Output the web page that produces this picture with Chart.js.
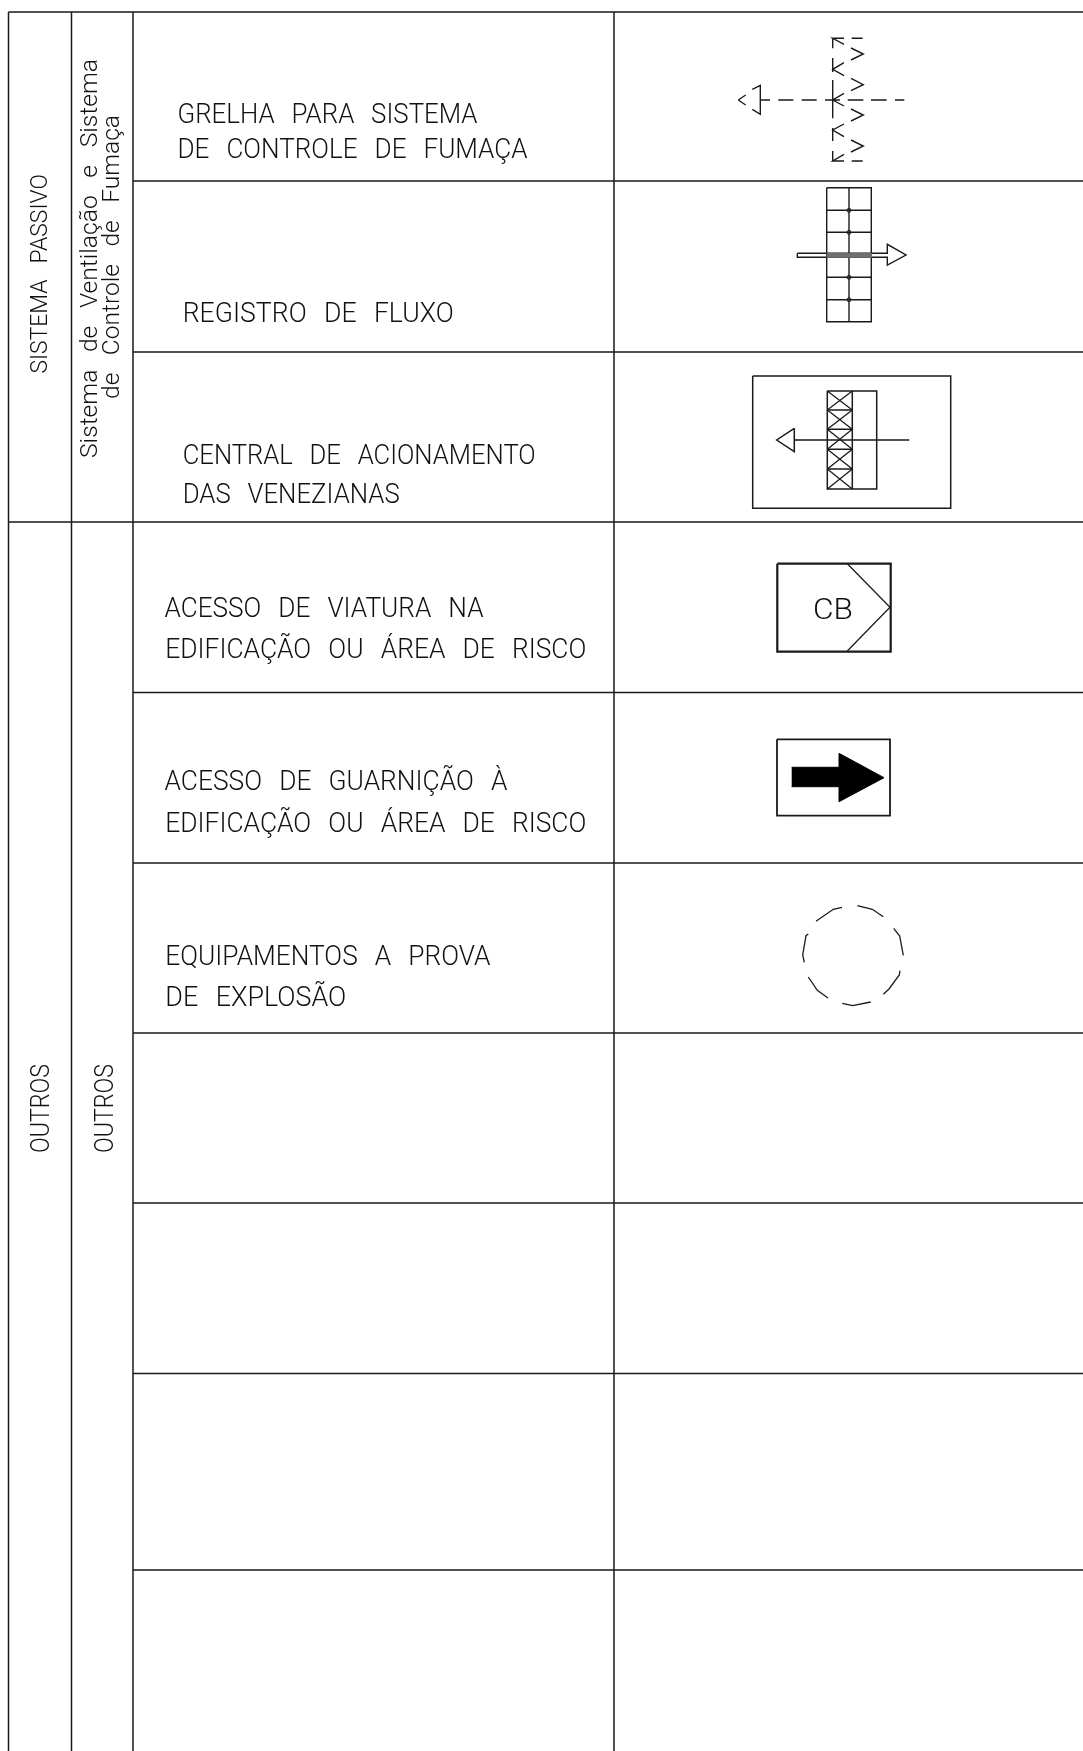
<!DOCTYPE html>
<html lang="pt-BR">
<head>
    <meta charset="UTF-8">
    <title>Legenda - Sistema passivo e outros</title>
    <script src="https://cdn.jsdelivr.net/npm/chart.js@4"></script>
    <style>
        html, body { margin: 0; padding: 0; background: #fff; }
        #legenda { display: block; }
    </style>
</head>
<body>
    <canvas id="legenda" width="1083" height="1751"></canvas>

    <script>
        // table rules, in drawing units
        const columnX = [8.5, 71.5, 133, 614];
        const rowY = [181, 352, 522, 692.5, 863, 1033, 1203, 1373.5, 1570];
        const tableTop = 12;
        const drawingRight = 1083;
        const drawingBottom = 1751;

        // symbol 1: grelha
        const grelhaLines = [
            [[738.3, 100], [745.7, 95]], [[738.3, 100], [745.7, 105]],
            [[752.3, 89.3], [760.3, 85.3], [760.3, 114.3], [752.3, 109.3]],
            [[760.3, 100], [770, 100]], [[778.3, 100], [793.3, 100]], [[801.7, 100], [816.7, 100]],
            [[825, 100], [840, 100]], [[847.7, 100], [863.3, 100]], [[871, 100], [886.7, 100]], [[895, 100], [904.3, 100]],
            [[832.7, 38.3], [832.7, 48.3]], [[832.7, 58], [832.7, 72]], [[832.7, 80], [832.7, 118.3]],
            [[832.7, 128], [832.7, 141]], [[832.7, 151], [832.7, 161]],
            [[844, 44.3], [832.7, 38.3], [844, 38.3]],
            [[844, 62.7], [832.7, 69.3], [844, 75.7]],
            [[844, 93.3], [832.7, 100], [844, 106]],
            [[844, 124], [832.7, 130], [844, 136.7]],
            [[844, 154.3], [832.7, 161], [844, 161]],
            [[851, 48], [863.3, 54], [851, 60]],
            [[851, 78.3], [863.3, 84.7], [851, 90.7]],
            [[851, 109], [863.3, 115], [851, 121]],
            [[851, 140], [863.3, 146], [851, 152]],
            [[851.7, 38.3], [862.7, 38.3]], [[851.7, 161], [862.7, 161]]
        ];

        // symbol 2: registro de fluxo
        const registroRows = [210.3, 232.3, 255, 277.3, 299.7];
        const registroLines = [
            [[826.7, 187.7], [871.3, 187.7], [871.3, 321.7], [826.7, 321.7], [826.7, 187.7]],
            [[849, 187.7], [849, 321.7]],
            [[797.3, 253.3], [887.3, 253.3], [887.3, 244.3], [906, 255], [887.3, 265], [887.3, 257.3], [797.3, 257.3], [797.3, 253.3]]
        ];
        const registroBand = [[826.7, 253.3], [871.3, 253.3], [871.3, 257.3], [826.7, 257.3]];

        // symbol 3: central das venezianas
        const centralRows = [391, 410, 429.3, 449.3, 469, 489];
        const centralLines = [
            [[752.7, 376], [950.7, 376], [950.7, 508.3], [752.7, 508.3], [752.7, 376]],
            [[827.3, 391], [876.7, 391], [876.7, 489], [827.3, 489], [827.3, 391]],
            [[852.3, 391], [852.3, 489]],
            [[794.3, 440], [909.3, 440]],
            [[794.3, 428.3], [776.7, 440], [794.3, 451.7], [794.3, 428.3]]
        ];

        // symbol 4 and 5: acessos
        const viaturaBox = [[777.3, 563.7], [890.7, 563.7], [890.7, 651.7], [777.3, 651.7], [777.3, 563.7]];
        const viaturaChevron = [[847.3, 563.7], [890, 607.3], [847.3, 651]];
        const guarnicaoBox = [[777, 739.3], [890, 739.3], [890, 815.7], [777, 815.7], [777, 739.3]];
        const guarnicaoArrow = [[791.7, 767.3], [839, 767.3], [839, 753.3], [884, 777.7], [839, 801.7], [839, 786.7], [791.7, 786.7]];

        // symbol 6: equipamentos a prova de explosao
        const explosaoLines = [
            [[816, 921.3], [833.3, 909.3], [842, 907.3]],
            [[857.3, 905.7], [872.3, 909.3], [883.3, 916.7]],
            [[893.7, 928.3], [899.7, 936], [903.3, 955.3]],
            [[900, 970.7], [899.3, 975], [889, 989], [883.3, 994.3]],
            [[870.7, 1002], [852.7, 1005.7], [842.3, 1003.3]],
            [[828, 998], [817.3, 990.3], [808.3, 977]],
            [[804.3, 962.3], [802.7, 955], [806, 935.7], [808.3, 934]]
        ];

        // text
        const rowLabels = [
            "GRELHA PARA SISTEMA", "DE CONTROLE DE FUMAÇA", "REGISTRO DE FLUXO",
            "CENTRAL DE ACIONAMENTO", "DAS VENEZIANAS",
            "ACESSO DE VIATURA NA", "EDIFICAÇÃO OU ÁREA DE RISCO",
            "ACESSO DE GUARNIÇÃO À", "EDIFICAÇÃO OU ÁREA DE RISCO",
            "EQUIPAMENTOS A PROVA", "DE EXPLOSÃO", "CB"
        ];
        const rowLabelX = [177.5, 177.5, 182.7, 182.7, 182.7, 164.5, 165.3, 164.5, 165.3, 165.3, 165.3, 813];
        const rowLabelBase = [122.7, 158, 322, 464, 503, 617, 657.6, 790.4, 831.7, 964.5, 1005.8, 619.3];
        const rowLabelWidth = [300, 350, 271, 353, 217, 319, 421, 343, 421, 325, 181, 40];
        const rowLabelSize = [27, 27, 27, 27, 27, 27, 27, 27, 27, 27, 27, 30];

        const sideLabels = ["SISTEMA PASSIVO", "Sistema de Ventilação e Sistema", "de Controle de Fumaça", "OUTROS", "OUTROS"];
        const sideLabelX = [46.7, 97, 118.6, 49, 113];
        const sideLabelBottom = [373.6, 458, 399, 1153, 1153];
        const sideLabelLength = [199.6, 399, 284, 89, 89];
        const sideLabelSize = [24.5, 23.5, 23.5, 26, 26];

        const lineColor = "#1a1a1a";

        // turns polylines into one point list, with a gap between them
        function toPoints(polylines) {
            const points = [];
            polylines.forEach(line => {
                line.forEach(p => points.push({ x: p[0], y: p[1] }));
                points.push({ x: null, y: null });
            });
            return points;
        }

        function lineSet(polylines, width) {
            return {
                data: toPoints(polylines),
                showLine: true,
                borderColor: lineColor,
                borderWidth: width,
                pointRadius: 0,
                spanGaps: false,
                fill: false
            };
        }

        function shapeSet(points, color) {
            return {
                data: points.map(p => ({ x: p[0], y: p[1] })),
                showLine: true,
                borderColor: color,
                backgroundColor: color,
                borderWidth: 1,
                pointRadius: 0,
                fill: "shape"
            };
        }

        const tableLines = [];
        columnX.forEach(x => tableLines.push([[x, tableTop], [x, drawingBottom]]));
        tableLines.push([[columnX[0], tableTop], [drawingRight, tableTop]]);
        rowY.forEach(y => {
            const left = y === 522 ? columnX[0] : columnX[2];
            tableLines.push([[left, y], [drawingRight, y]]);
        });

        const registroGrid = registroRows.map(y => [[826.7, y], [871.3, y]]);
        const centralGrid = centralRows.slice(1, -1).map(y => [[827.3, y], [852.3, y]]);
        const centralCrosses = [];
        for (let i = 0; i < centralRows.length - 1; i++) {
            centralCrosses.push([[827.3, centralRows[i]], [852.3, centralRows[i + 1]]]);
            centralCrosses.push([[852.3, centralRows[i]], [827.3, centralRows[i + 1]]]);
        }

        // labels are normal text, fitted to the width they have in the drawing
        const labelPlugin = {
            id: "labels",
            afterDatasetsDraw(chart) {
                const ctx = chart.ctx;
                const sx = chart.scales.x;
                const sy = chart.scales.y;

                function put(text, x, y, length, size, rotated) {
                    ctx.save();
                    ctx.font = "300 " + size + "px Roboto";
                    ctx.wordSpacing = text.includes(" ") ? "11px" : "0px";
                    ctx.fillStyle = "#111";
                    ctx.textBaseline = "alphabetic";
                    ctx.textAlign = "left";
                    ctx.translate(sx.getPixelForValue(x), sy.getPixelForValue(y));
                    if (rotated) ctx.rotate(-Math.PI / 2);
                    ctx.scale(length / ctx.measureText(text).width, 1);
                    ctx.fillText(text, 0, 0);
                    ctx.restore();
                }

                rowLabels.forEach((t, i) => put(t, rowLabelX[i], rowLabelBase[i], rowLabelWidth[i], rowLabelSize[i], false));
                sideLabels.forEach((t, i) => put(t, sideLabelX[i], sideLabelBottom[i], sideLabelLength[i], sideLabelSize[i], true));
            }
        };

        new Chart(document.getElementById("legenda"), {
            type: "scatter",
            data: {
                datasets: [
                    lineSet(tableLines, 1.5),
                    shapeSet(registroBand, "#707070"),
                    lineSet(grelhaLines, 1.4),
                    lineSet(registroLines, 1.4),
                    lineSet(registroGrid, 1.4),
                    {
                        data: registroRows.map(y => ({ x: 849, y: y })),
                        pointRadius: 2,
                        pointBackgroundColor: "#fff",
                        pointBorderColor: lineColor,
                        pointBorderWidth: 1
                    },
                    lineSet(centralLines, 1.5),
                    lineSet(centralGrid, 1.5),
                    lineSet(centralCrosses, 1.3),
                    lineSet([viaturaBox], 2.2),
                    lineSet([viaturaChevron], 1.3),
                    lineSet([guarnicaoBox], 1.8),
                    shapeSet(guarnicaoArrow, "#000"),
                    lineSet(explosaoLines, 1.3)
                ]
            },
            options: {
                responsive: false,
                animation: false,
                layout: { padding: 0, autoPadding: false },
                plugins: { legend: { display: false }, tooltip: { enabled: false } },
                scales: {
                    x: { type: "linear", display: false, min: 0, max: 1083 },
                    y: { type: "linear", display: false, min: 0, max: 1751, reverse: true }
                }
            },
            plugins: [labelPlugin]
        });
    </script>
</body>
</html>
